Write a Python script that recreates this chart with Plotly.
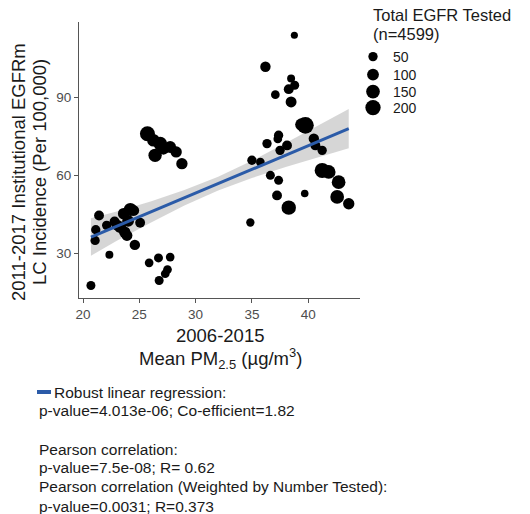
import plotly.graph_objects as go

# ---------------- data ----------------
pm25 = [21.42, 21.13, 21.07, 20.70, 22.34, 22.10, 22.80, 24.20, 23.60, 24.50,
        23.30, 23.70, 23.90, 25.07, 24.60, 23.00, 24.00,
        25.87, 26.70, 27.74, 27.50, 27.30, 26.76,
        25.72, 26.25, 26.85, 26.40, 27.14, 27.74, 28.27, 28.78,
        38.77, 36.20, 38.48, 38.80, 38.27, 37.08, 38.48, 39.75, 39.40,
        37.37, 36.34, 38.12, 37.50, 40.50, 40.64, 41.24, 35.00, 35.75,
        36.64, 37.37, 37.23, 38.27, 39.69, 41.24, 41.82, 42.70, 42.57,
        43.60, 34.86, 37.30]
incidence = [44.6, 39.1, 35.0, 17.7, 29.5, 40.8, 42.3, 46.9, 45.3, 46.5,
             40.1, 38.2, 36.9, 41.8, 33.3, 41.0, 42.5,
             26.4, 28.3, 28.6, 23.8, 22.2, 19.6,
             76.0, 73.5, 72.2, 67.7, 70.3, 70.9, 69.0, 64.5,
             113.8, 101.7, 97.2, 94.6, 93.1, 91.0, 88.2, 79.2, 79.5,
             75.4, 72.2, 71.5, 69.6, 74.1, 71.5, 69.6, 65.8, 65.1,
             60.0, 58.1, 52.3, 47.6, 53.0, 61.9, 61.3, 57.4, 51.7,
             49.1, 41.9, 74.0]
tested = [60, 50, 50, 45, 30, 50, 60, 130, 90, 80,
          100, 90, 80, 60, 70, 80, 100,
          40, 45, 40, 40, 40, 45,
          190, 120, 150, 140, 110, 100, 90, 90,
          20, 70, 30, 45, 60, 40, 80, 250, 120,
          50, 50, 60, 50, 70, 60, 50, 50, 40,
          45, 45, 60, 170, 25, 190, 150, 150, 150,
          90, 35, 40]

legend_sizes = [50, 100, 150, 200]

fit_x = [20.7, 23.0, 26.0, 29.0, 32.0, 35.0, 38.0, 41.0, 43.6]
fit_y = [36.27, 40.46, 45.92, 51.38, 56.84, 62.30, 67.76, 73.22, 77.95]
fit_lo = [29.1, 34.9, 41.8, 48.4, 54.2, 59.0, 63.2, 67.1, 70.4]
fit_hi = [43.5, 46.1, 50.0, 54.4, 59.5, 65.6, 72.4, 79.4, 85.5]

x_ticks = [20, 25, 30, 35, 40]
y_ticks = [30, 60, 90]

# ---------------- layout helpers ----------------
W, H = 530, 514
PL, PR, PT, PB = 79, 360, 22, 298


def xp(px):
    return (px - PL) / (PR - PL)


def yp(py):
    return (PB - py) / (PB - PT)


def diam(n):
    return 3.3 + 0.85 * n ** 0.5


FONT = "Liberation Sans, Arial, Helvetica, sans-serif"
BLUE = "#2B5BA8"
TXT = "#1a1a1a"

fig = go.Figure()

# confidence band
fig.add_trace(go.Scatter(x=fit_x, y=fit_hi, mode="lines", line=dict(width=0),
                         hoverinfo="skip", showlegend=False))
fig.add_trace(go.Scatter(x=fit_x, y=fit_lo, mode="lines", line=dict(width=0),
                         fill="tonexty", fillcolor="rgba(153,153,153,0.4)",
                         hoverinfo="skip", showlegend=False))

# points
fig.add_trace(go.Scatter(x=pm25, y=incidence, mode="markers",
                         marker=dict(color="black", size=[diam(n) for n in tested],
                                     opacity=1, line=dict(width=0)),
                         showlegend=False))

# regression line
fig.add_trace(go.Scatter(x=fit_x, y=fit_y, mode="lines",
                         line=dict(color=BLUE, width=3), showlegend=False))

# size legend entries, one small legend each so spacing matches
legend_centres = [57, 75, 92, 108]
legend_layouts = {}
for i, s in enumerate(legend_sizes):
    lname = "legend" if i == 0 else f"legend{i + 1}"
    fig.add_trace(go.Scatter(x=[None], y=[None], mode="markers", name=str(s),
                             marker=dict(color="black", size=diam(s), opacity=1,
                                         line=dict(width=0)),
                             showlegend=True, legend=lname))
    legend_layouts[lname] = dict(x=xp(353), y=yp(legend_centres[i]), xanchor="left",
                                 yanchor="middle", itemsizing="trace",
                                 font=dict(size=14, color=TXT, family=FONT),
                                 bgcolor="rgba(0,0,0,0)")

annotations = []
# y title (two lines)
annotations.append(dict(text="2011-2017 Institutional EGFRm", x=xp(18), y=yp(172),
                        xref="paper", yref="paper", textangle=-90, showarrow=False,
                        xanchor="center", yanchor="middle",
                        font=dict(size=18.5, color=TXT, family=FONT)))
annotations.append(dict(text="LC Incidence (Per 100,000)", x=xp(39), y=yp(172),
                        xref="paper", yref="paper", textangle=-90, showarrow=False,
                        xanchor="center", yanchor="middle",
                        font=dict(size=18.5, color=TXT, family=FONT)))
# x title
annotations.append(dict(text="2006-2015", x=xp(220), y=yp(335), xref="paper", yref="paper",
                        showarrow=False, xanchor="center", yanchor="middle",
                        font=dict(size=18.5, color=TXT, family=FONT)))
annotations.append(dict(text="Mean PM<sub>2.5</sub> (µg/m<sup>3</sup>)", x=xp(220), y=yp(358),
                        xref="paper", yref="paper", showarrow=False,
                        xanchor="center", yanchor="middle",
                        font=dict(size=18.5, color=TXT, family=FONT)))
# legend title
annotations.append(dict(text="Total EGFR Tested", x=xp(371), y=yp(15), xref="paper", yref="paper",
                        showarrow=False, xanchor="left", yanchor="middle",
                        font=dict(size=16.5, color=TXT, family=FONT)))
annotations.append(dict(text="(n=4599)", x=xp(371), y=yp(34), xref="paper", yref="paper",
                        showarrow=False, xanchor="left", yanchor="middle",
                        font=dict(size=16.5, color=TXT, family=FONT)))

# bottom stats text
stats = [
    ("Robust linear regression:", 52, 392),
    ("p-value=4.013e-06; Co-efficient=1.82", 37, 410),
    ("Pearson correlation:", 37, 449),
    ("p-value=7.5e-08; R= 0.62", 37, 467),
    ("Pearson correlation (Weighted by Number Tested):", 37, 486),
    ("p-value=0.0031; R=0.373", 37, 506),
]
for t, px, py in stats:
    annotations.append(dict(text=t, x=xp(px), y=yp(py), xref="paper", yref="paper",
                            showarrow=False, xanchor="left", yanchor="middle",
                            font=dict(size=15.5, color=TXT, family=FONT)))

shapes = [dict(type="line", xref="paper", yref="paper", x0=xp(37), x1=xp(51),
               y0=yp(392), y1=yp(392), line=dict(color=BLUE, width=4))]

axis_common = dict(showgrid=False, zeroline=False, showline=True, linecolor="#555555",
                   linewidth=1, ticks="outside", ticklen=4, tickcolor="#555555",
                   tickfont=dict(size=13.5, color="#4D4D4D", family=FONT))

fig.update_layout(
    width=W, height=H,
    margin=dict(l=PL, r=W - PR, t=PT, b=H - PB, pad=0),
    paper_bgcolor="white", plot_bgcolor="white",
    xaxis=dict(range=[19.64, 44.6], tickvals=x_ticks, **axis_common),
    yaxis=dict(range=[12.9, 118.9], tickvals=y_ticks, **axis_common),
    annotations=annotations,
    shapes=shapes,
    font=dict(family=FONT),
    **legend_layouts,
)

fig.write_html("out.html")
